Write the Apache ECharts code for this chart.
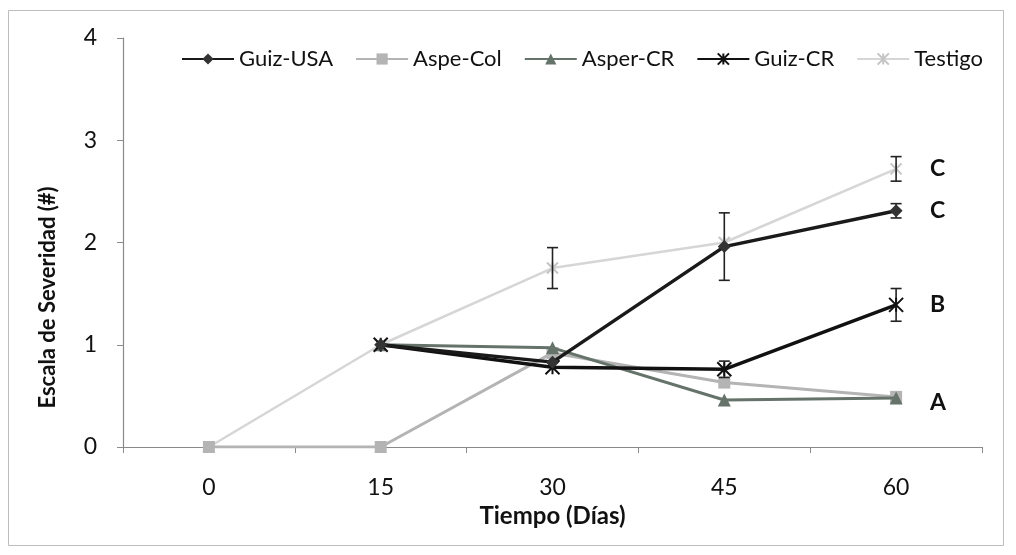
<!DOCTYPE html>
<html><head><meta charset="utf-8">
<script src="https://cdn.jsdelivr.net/npm/echarts@6/dist/echarts.min.js"></script>
<style>html,body{margin:0;padding:0;background:#fff}#c{width:1016px;height:555px}</style>
</head><body><div id="c"></div>
<script>
const categories = ['0', '15', '30', '45', '60'];
const guizUSA = [null, 1.0, 0.83, 1.96, 2.31];
const aspeCol = [0, 0, 0.92, 0.63, 0.49];
const asperCR = [null, 1.0, 0.97, 0.46, 0.48];
const guizCR = [null, 1.0, 0.78, 0.76, 1.39];
const testigo = [0, 1.0, 1.75, 2.0, 2.72];
// error bars: [categoryIndex, value, error]
const errGuizUSA = [[3, 1.96, 0.33], [4, 2.31, 0.07]];
const errGuizCR = [[3, 0.76, 0.08], [4, 1.39, 0.16]];
const errTestigo = [[2, 1.75, 0.2], [4, 2.72, 0.12]];
const letters = {Testigo: 'C', GuizUSA: 'C', GuizCR: 'B', AsperCR: 'A'};
const yTicks = [0, 1, 2, 3, 4];

const FONT = 'Lato, "Open Sans", sans-serif';
const xPath = 'path://M0,0L10,10M10,0L0,10M5,0L5,10';

function errSeries(name, data) {
  return {
    type: 'custom', name: name, data: data, z: 5, silent: true,
    renderItem: function (params, api) {
      const top = api.coord([api.value(0), api.value(1) + api.value(2)]);
      const bot = api.coord([api.value(0), api.value(1) - api.value(2)]);
      const w = 5.5;
      const st = {stroke: '#222', lineWidth: 1.6};
      return {type: 'group', children: [
        {type: 'line', shape: {x1: top[0], y1: top[1], x2: bot[0], y2: bot[1]}, style: st},
        {type: 'line', shape: {x1: top[0] - w, y1: top[1], x2: top[0] + w, y2: top[1]}, style: st},
        {type: 'line', shape: {x1: bot[0] - w, y1: bot[1], x2: bot[0] + w, y2: bot[1]}, style: st}
      ]};
    }
  };
}
function endLbl(text, dy) {
  return {show: true, formatter: text, distance: 34, offset: [0, dy || 0],
    fontFamily: FONT, fontWeight: 'bold', fontSize: 23, color: '#111'};
}

const chart = echarts.init(document.getElementById('c'), null, {renderer: 'canvas'});
chart.setOption({
  animation: false,
  backgroundColor: '#fff',
  textStyle: {fontFamily: FONT},
  graphic: [{type: 'rect', shape: {x: 8.5, y: 10.5, width: 995, height: 535},
    style: {fill: 'none', stroke: '#bdbdbd', lineWidth: 1}, silent: true}],
  legend: {
    data: ['Guiz-USA', 'Aspe-Col', 'Asper-CR', 'Guiz-CR', 'Testigo'],
    left: 176, top: 43, itemWidth: 52, itemHeight: 14, itemGap: 22,
    textStyle: {fontFamily: FONT, fontSize: 22, color: '#111'}
  },
  grid: {left: 123, right: 34, top: 38, bottom: 108, containLabel: false},
  xAxis: {
    type: 'category', data: categories, boundaryGap: true,
    name: 'Tiempo (Días)', nameLocation: 'middle', nameGap: 52,
    nameTextStyle: {fontFamily: FONT, fontWeight: 'bold', fontSize: 24, color: '#111'},
    axisLine: {lineStyle: {color: '#8a8a8a', width: 1.2}},
    axisTick: {show: true, inside: false, length: 6, lineStyle: {color: '#8a8a8a'}},
    axisLabel: {margin: 29, fontFamily: FONT, fontSize: 23, color: '#111'},
    splitLine: {show: false}
  },
  yAxis: {
    type: 'value', min: 0, max: 4, interval: 1,
    name: 'Escala de Severidad (#)', nameLocation: 'middle', nameGap: 64, nameRotate: 90,
    nameTextStyle: {fontFamily: FONT, fontWeight: 'bold', fontSize: 22, color: '#111', padding: [0, 0, 0, -110]},
    axisLine: {show: true, lineStyle: {color: '#8a8a8a', width: 1.2}},
    axisTick: {show: true, length: 6, lineStyle: {color: '#8a8a8a'}},
    axisLabel: {margin: 26, fontFamily: FONT, fontSize: 23, color: '#111',
      formatter: function (v) { return yTicks.indexOf(v) >= 0 ? String(v) : ''; }},
    splitLine: {show: false}
  },
  series: [
    {name: 'Testigo', type: 'line', data: testigo, z: 2, color: '#d6d6d6',
      symbol: xPath, symbolSize: 11,
      lineStyle: {color: '#d6d6d6', width: 2.5},
      itemStyle: {color: '#d6d6d6', borderColor: '#c4c4c4', borderWidth: 2},
      endLabel: endLbl(letters.Testigo, 0)},
    {name: 'Aspe-Col', type: 'line', data: aspeCol, z: 3, color: '#b4b4b4',
      symbol: 'rect', symbolSize: 12,
      lineStyle: {color: '#b4b4b4', width: 3},
      itemStyle: {color: '#b4b4b4'}},
    {name: 'Asper-CR', type: 'line', data: asperCR, z: 4, color: '#65736b',
      symbol: 'triangle', symbolSize: 13,
      lineStyle: {color: '#65736b', width: 3},
      itemStyle: {color: '#65736b'},
      endLabel: endLbl(letters.AsperCR, 5)},
    {name: 'Guiz-CR', type: 'line', data: guizCR, z: 5, color: '#111',
      symbol: xPath, symbolSize: 14,
      lineStyle: {color: '#111', width: 3.5},
      itemStyle: {color: '#111', borderColor: '#111', borderWidth: 2},
      endLabel: endLbl(letters.GuizCR, 0)},
    {name: 'Guiz-USA', type: 'line', data: guizUSA, z: 6, color: '#1a1a1a',
      symbol: 'diamond', symbolSize: 13,
      lineStyle: {color: '#1a1a1a', width: 3.5},
      itemStyle: {color: '#333'},
      endLabel: endLbl(letters.GuizUSA, 0)},
    errSeries('errTestigo', errTestigo),
    errSeries('errGuizUSA', errGuizUSA),
    errSeries('errGuizCR', errGuizCR)
  ]
});
</script></body></html>
